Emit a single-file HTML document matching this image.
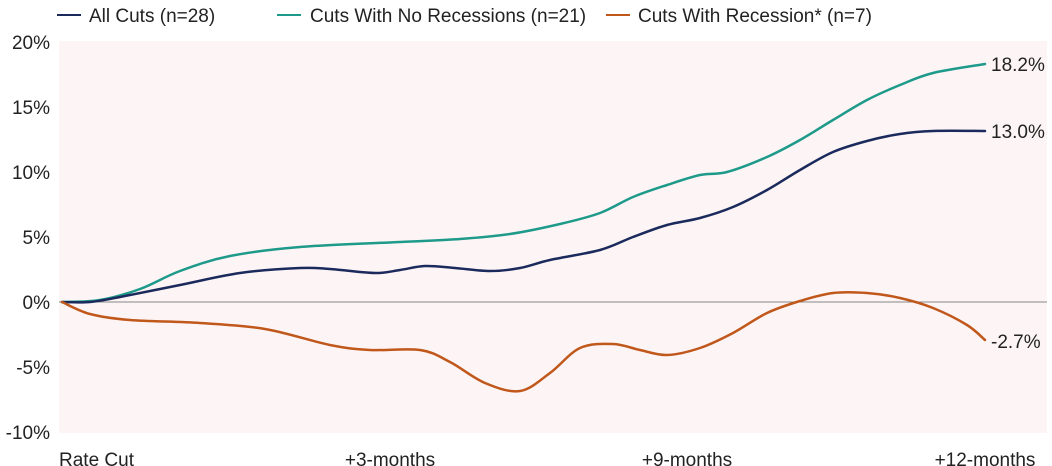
<!DOCTYPE html>
<html><head><meta charset="utf-8"><style>
html,body{margin:0;padding:0;background:#fff;}
svg{display:block;font-family:"Liberation Sans",sans-serif;}
</style></head><body>
<svg width="1052" height="466" viewBox="0 0 1052 466" xmlns="http://www.w3.org/2000/svg">
<rect x="59" y="41" width="988" height="392" fill="#fdf5f5"/>
<line x1="59" y1="302" x2="1047" y2="302" stroke="#888" stroke-width="1"/>
<g font-size="19" fill="#222">
<g text-anchor="end">
<text x="50" y="49">20%</text>
<text x="50" y="114">15%</text>
<text x="50" y="179">10%</text>
<text x="50" y="244">5%</text>
<text x="50" y="309">0%</text>
<text x="50" y="374">-5%</text>
<text x="50" y="439">-10%</text>
</g>
<text x="59" y="466">Rate Cut</text>
<text x="390" y="466" text-anchor="middle">+3-months</text>
<text x="687" y="466" text-anchor="middle">+9-months</text>
<text x="985" y="466" text-anchor="middle">+12-months</text>
<line x1="57" y1="15" x2="81" y2="15" stroke="#1b2a5c" stroke-width="2"/>
<text x="89" y="22">All Cuts (n=28)</text>
<line x1="277" y1="15" x2="301" y2="15" stroke="#1e9a8a" stroke-width="2"/>
<text x="310" y="22">Cuts With No Recessions (n=21)</text>
<line x1="606" y1="15" x2="630" y2="15" stroke="#c0571b" stroke-width="2"/>
<text x="638" y="22">Cuts With Recession* (n=7)</text>
<g>
<text x="991" y="71">18.2%</text>
<text x="991" y="138">13.0%</text>
<text x="991" y="348">-2.7%</text>
</g>
</g>
<g fill="none" stroke-width="2.5" stroke-linejoin="round" stroke-linecap="round">
<path id="teal" stroke="#1e9a8a"/>
<path id="navy" stroke="#1b2a5c"/>
<path id="orng" stroke="#c0571b"/>
</g>
</svg>
<script>
function cr(p){let d="M"+p[0][0]+","+p[0][1];for(let i=0;i<p.length-1;i++){const p0=p[i-1]||p[i],p1=p[i],p2=p[i+1],p3=p[i+2]||p2;const c1=[p1[0]+(p2[0]-p0[0])/6,p1[1]+(p2[1]-p0[1])/6],c2=[p2[0]-(p3[0]-p1[0])/6,p2[1]-(p3[1]-p1[1])/6];d+=" C"+c1+" "+c2+" "+p2;}return d;}
document.getElementById("navy").setAttribute("d",cr([[62,302],[90,302],[120,297],[180,285],[240,273],[300,268],[330,269],[375,273],[400,270],[425,266],[455,268],[490,271],[520,268],[550,260],[600,250],[633,237],[667,225],[700,218],[733,207],[767,190],[800,170],[833,152],[867,141],[900,134],[933,131],[985,131]]));
document.getElementById("teal").setAttribute("d",cr([[62,302],[100,300],[140,289],[180,271],[230,256],[300,247],[400,242],[460,239],[510,234],[560,224],[600,213],[633,197],[667,185],[700,175],[727,172],[767,157],[800,140],[833,120],[867,100],[900,85],[933,73],[985,64]]));
document.getElementById("orng").setAttribute("d",cr([[62,302],[90,314],[130,320],[200,323],[265,329],[330,345],[370,350],[420,350],[450,362],[485,383],[520,391],[550,373],[580,348],[613,344],[640,350],[667,355],[700,348],[733,333],[767,313],[800,301],[833,293],[867,293],[900,298],[933,308],[967,325],[985,340]]));
</script>
</body></html>
